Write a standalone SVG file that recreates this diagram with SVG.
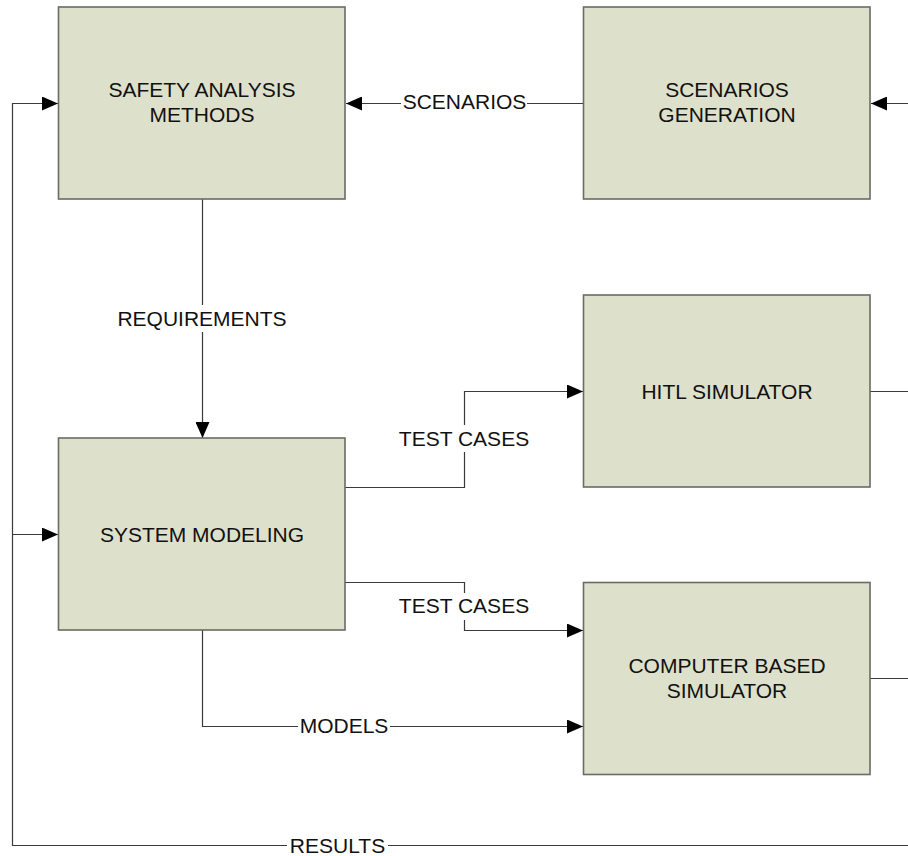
<svg xmlns="http://www.w3.org/2000/svg" width="908" height="856" viewBox="0 0 908 856">
  <defs>
    <marker id="arrow" markerUnits="userSpaceOnUse" markerWidth="16" markerHeight="14" refX="16" refY="7" orient="auto">
      <path d="M0,0 L16,7 L0,14 Z" fill="#000"/>
    </marker>
    <style>
      .box { fill: #dde0cb; stroke: #6b6b63; stroke-width: 1.6; }
      .lbl { font-family: "Liberation Sans", Arial, sans-serif; font-size: 21px; fill: #111; text-anchor: middle; }
      .wire { fill: none; stroke: #3a3a3a; stroke-width: 1.2; }
      .arr { marker-end: url(#arrow); }
      .bg { fill: #fff; }
    </style>
  </defs>
  <rect width="908" height="856" fill="#fff"/>

  <!-- connectors -->
  <g id="connectors">
    <!-- feedback loop: results back to analysis and modeling -->
    <path class="wire arr" d="M908,845.5 H12.5 V103.5 H58"/>
    <path class="wire arr" d="M12.5,534.5 H58"/>
    <!-- incoming from the right into scenarios generation -->
    <path class="wire arr" d="M908,103.5 H871"/>
    <!-- scenarios -->
    <path class="wire arr" d="M583,103.5 H346"/>
    <!-- requirements -->
    <path class="wire arr" d="M202.5,199 V438"/>
    <!-- test cases to HITL -->
    <path class="wire arr" d="M345,487.5 H464.5 V391.5 H583"/>
    <!-- test cases to computer based -->
    <path class="wire arr" d="M345,582.5 H464.5 V630.5 H583"/>
    <!-- models -->
    <path class="wire arr" d="M202.5,630 V726.5 H583"/>
    <!-- simulator outputs to the right -->
    <path class="wire" d="M870,391.5 H908"/>
    <path class="wire" d="M870,678.5 H908"/>

    <!-- label backgrounds and labels -->
    <rect class="bg" x="401" y="92" width="126" height="22"/>
    <text class="lbl" x="464.5" y="109">SCENARIOS</text>
    <rect class="bg" x="115" y="305" width="173" height="27"/>
    <text class="lbl" x="202" y="325.5">REQUIREMENTS</text>
    <rect class="bg" x="396" y="425" width="136" height="27"/>
    <text class="lbl" x="464" y="445.5">TEST CASES</text>
    <rect class="bg" x="396" y="593" width="136" height="27"/>
    <text class="lbl" x="464" y="613">TEST CASES</text>
    <rect class="bg" x="298" y="714" width="92" height="24"/>
    <text class="lbl" x="344" y="733">MODELS</text>
    <rect class="bg" x="287" y="834" width="101" height="22"/>
    <text class="lbl" x="337.5" y="853">RESULTS</text>
  </g>

  <!-- nodes -->
  <g id="safety-analysis">
    <rect class="box" x="58.5" y="7" width="286.5" height="192"/>
    <text class="lbl" x="202" y="97">SAFETY ANALYSIS</text>
    <text class="lbl" x="202" y="122">METHODS</text>
  </g>
  <g id="scenarios-generation">
    <rect class="box" x="583.5" y="7" width="286.5" height="192"/>
    <text class="lbl" x="727" y="97">SCENARIOS</text>
    <text class="lbl" x="727" y="122">GENERATION</text>
  </g>
  <g id="hitl-simulator">
    <rect class="box" x="583.5" y="295" width="286.5" height="192"/>
    <text class="lbl" x="727" y="398.5">HITL SIMULATOR</text>
  </g>
  <g id="system-modeling">
    <rect class="box" x="58.5" y="438" width="286.5" height="192"/>
    <text class="lbl" x="202" y="541.5">SYSTEM MODELING</text>
  </g>
  <g id="computer-based-simulator">
    <rect class="box" x="583.5" y="582.5" width="286.5" height="192"/>
    <text class="lbl" x="727" y="672.5">COMPUTER BASED</text>
    <text class="lbl" x="727" y="697.5">SIMULATOR</text>
  </g>
</svg>
